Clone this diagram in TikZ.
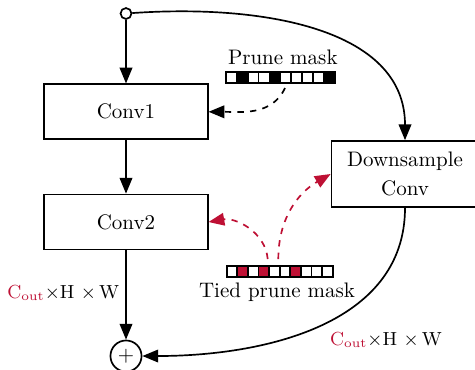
\documentclass[tikz,border=0pt]{standalone}
\usepackage{amsmath}
\usetikzlibrary{arrows.meta, calc}
\definecolor{prunered}{RGB}{190,16,52}

\begin{document}
\begin{tikzpicture}[>={Triangle[length=7.5pt, width=6pt]}, x=0.476pt, y=0.476pt, thick,
    block/.style={draw, minimum width=77.8pt, minimum height=26.2pt, inner sep=2pt},
    dsblock/.style={draw, minimum width=70pt, minimum height=31.4pt, align=center, inner sep=2pt},
    dot/.style={draw, circle, fill=white, minimum size=5.2pt, inner sep=0pt},
    sumnode/.style={draw, circle, minimum size=14.8pt, inner sep=0pt},
    dimlabel/.style={font=\small, inner sep=0pt},
    maskcell/.style={draw, thick},
    tiedarrow/.style={->, dashed, prunered}]
    % ================= Parameters =================
    \def\cw{10.87}     % Prune mask cell width
    \def\tw{10.6}      % Tied mask cell width

    % Canvas (cropped like the reference)
    \path[use as bounding box] (0,0) rectangle (475,-369);

    % ================= Blocks =================
    \node[dot] (in) at (126,-13.5) {};
    \node[block] (conv1) at (126,-111.8) {Conv1};
    \node[block] (conv2) at (126,-222) {Conv2};
    \node[dsblock] (ds) at (405,-174) {Downsample\\[1.5pt]Conv};
    \node[sumnode] (sum) at (126,-356) {$+$};

    % ================= Main path =================
    \draw[->] (in) -- (conv1);
    \draw[->] (conv1) -- (conv2);
    \draw[->] (conv2) -- (sum);

    % Shortcut through the downsample conv
    \draw[->] (in) to[out=4, in=90, out looseness=1.1, in looseness=0.95] (ds.north);
    \draw[->] (ds.south) to[out=-90, in=0] (sum.east);

    % Output shapes
    \node[dimlabel, anchor=base east] (leftdim) at (120,-298.3)
        {\textcolor{prunered}{C$_\mathrm{out}$}$\times$H $\times$\,W};
    \node[dimlabel, anchor=base] (rightdim) at (386,-345)
        {\textcolor{prunered}{C$_\mathrm{out}$}$\times$H $\times$\,W};

    % ================= Prune mask =================
    \node[anchor=base] (pmlabel) at (282.8,-64) {Prune mask};
    \foreach \c [count=\k from 0] in {white,black,white,white,black,white,white,white,white,black}
        \draw[maskcell, fill=\c] ({226+\k*\cw},-71.7) rectangle ++(\cw,-11.6);
    \coordinate (pmtail) at (285,-88);
    \draw[->, dashed] (pmtail) to[out=-115, in=0] (conv1.east);

    % ================= Tied prune mask =================
    \node[anchor=base] (tmlabel) at (277,-297.5) {Tied prune mask};
    \foreach \c [count=\k from 0] in {white,prunered,white,prunered,white,white,prunered,white,white,white}
        \draw[maskcell, fill=\c] ({226.7+\k*\tw},-266) rectangle ++(\tw,-10.7);
    \coordinate (tmtailA) at (267.7,-259);
    \coordinate (tmtailB) at (278.3,-259);
    \draw[tiedarrow] (tmtailA) to[out=95, in=10] (conv2.east);
    \draw[tiedarrow] (tmtailB) to[out=90, in=-150] (ds.west);

\end{tikzpicture}
\end{document}
